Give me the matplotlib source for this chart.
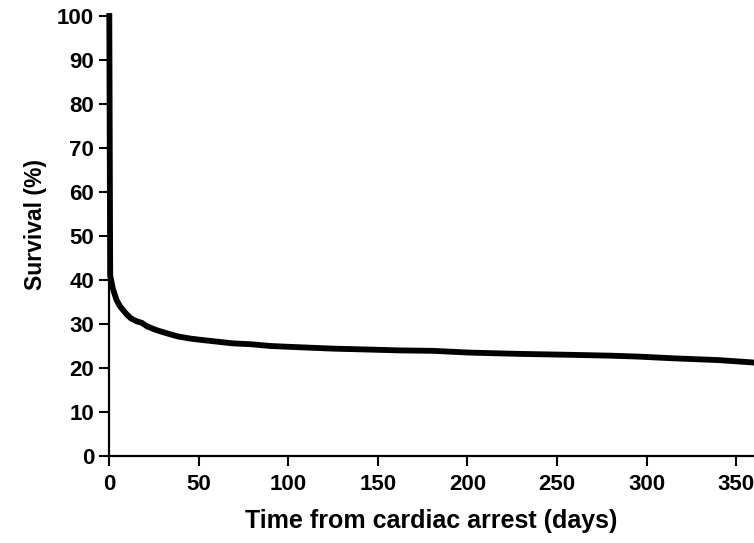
import matplotlib
matplotlib.use("Agg")
from matplotlib import pyplot as plt

# Kaplan-Meier survival
days = [0, 0.5, 1, 2, 4, 6, 9.7, 12, 15.3, 18, 21, 25, 28, 32, 38, 45, 51, 60,
        69, 79, 90, 107, 125, 144, 162, 181, 201, 230, 257, 280, 295, 315, 340,
        358, 365]
survival = [100, 41, 40, 38, 35.5, 34, 32.2, 31.3, 30.6, 30.3, 29.5, 28.8,
            28.4, 27.9, 27.2, 26.7, 26.4, 26.0, 25.6, 25.4, 25.0, 24.7, 24.4,
            24.2, 24.0, 23.9, 23.5, 23.2, 23.0, 22.8, 22.6, 22.2, 21.8, 21.3,
            21.1]

x_ticks = [0, 50, 100, 150, 200, 250, 300, 350]
y_ticks = [0, 10, 20, 30, 40, 50, 60, 70, 80, 90, 100]

plt.rcParams['font.family'] = ['Liberation Sans', 'DejaVu Sans']
plt.rcParams['font.weight'] = 'bold'

fig = plt.figure(figsize=(7.54, 5.43), dpi=100)
ax = fig.add_axes([109.3 / 754, 87 / 543, (754 - 109.3) / 754, 440 / 543])

ax.plot(days, survival, color='black', linewidth=4.2, solid_joinstyle='round',
        clip_on=False, zorder=3)

ax.set_xlim(0, 360)
ax.set_ylim(0, 100)
ax.set_xticks(x_ticks)
ax.set_yticks(y_ticks)

for side in ['top', 'right']:
    ax.spines[side].set_visible(False)
for side in ['left', 'bottom']:
    ax.spines[side].set_linewidth(1.6)

ax.tick_params(axis='both', length=7, width=1.5, labelsize=16)
ax.tick_params(axis='x', pad=6)
ax.tick_params(axis='y', pad=4)

ax.set_xlabel('Time from cardiac arrest (days)', fontsize=18,
              fontweight='bold', labelpad=10)
ax.set_ylabel('Survival (%)', fontsize=16.5, fontweight='bold')
ax.yaxis.set_label_coords(-0.097, 0.525)

plt.savefig('out.png', dpi=100)
